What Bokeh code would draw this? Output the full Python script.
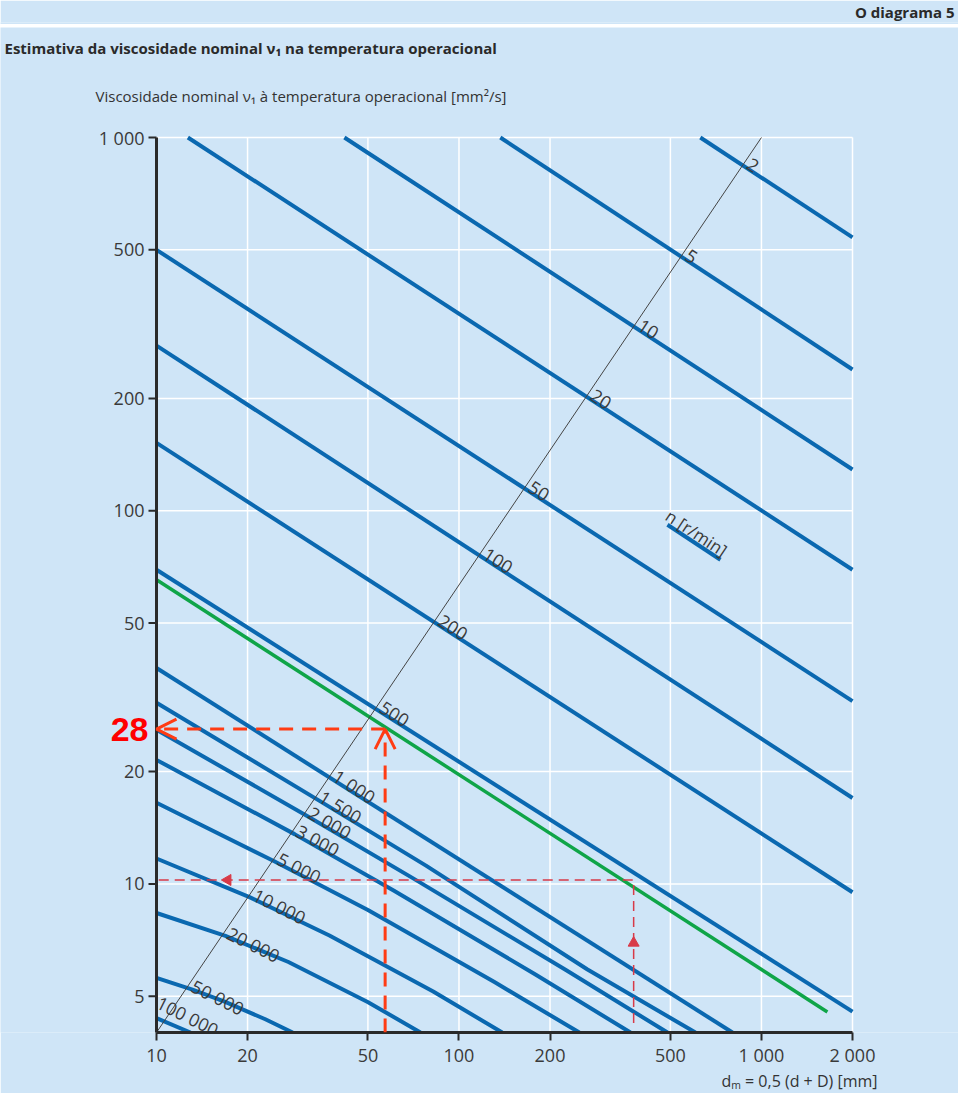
import numpy as np
from bokeh.plotting import figure
from bokeh.models import (FixedTicker, Arrow, OpenHead, ColumnDataSource, Range1d, Title)
from bokeh.layouts import column
from bokeh.embed import file_html
from bokeh.resources import INLINE
from bokeh.core.properties import value

# ---------------- data ----------------
x_ticks = [10, 20, 50, 100, 200, 500, 1000, 2000]
x_tick_labels = ["10", "20", "50", "100", "200", "500", "1 000", "2 000"]
y_ticks = [5, 10, 20, 50, 100, 200, 500, 1000]
y_tick_labels = ["5", "10", "20", "50", "100", "200", "500", "1 000"]

speed_labels = ["2", "5", "10", "20", "50", "100", "200", "500", "1 000", "1 500",
                "2 000", "3 000", "5 000", "10 000", "20 000", "50 000", "100 000"]

dm_n2 = [628, 2000];      nu_n2 = [1000, 540]
dm_n5 = [137, 2000];      nu_n5 = [1000, 239]
dm_n10 = [41.8, 2000];    nu_n10 = [1000, 129]
dm_n20 = [12.7, 2000];    nu_n20 = [1000, 69.5]
dm_n50 = [10, 2000];      nu_n50 = [500, 30.9]
dm_n100 = [10, 2000];     nu_n100 = [277, 17.0]
dm_n200 = [10, 2000];     nu_n200 = [152, 9.5]
dm_n500 = [10, 2000];     nu_n500 = [69.5, 4.55]
dm_n1000 = [10, 802];     nu_n1000 = [37.9, 4.0]
dm_n1500 = [10, 34.6, 77.8, 266, 605];   nu_n1500 = [30.6, 16.7, 11.2, 5.9, 4.0]
dm_n2000 = [10, 32.0, 69.9, 225, 489];   nu_n2000 = [25.9, 15.1, 10.4, 5.89, 4.0]
dm_n3000 = [10, 28.6, 60.8, 179, 369];   nu_n3000 = [21.5, 13.6, 9.61, 5.72, 4.0]
dm_n5000 = [10, 24.5, 50.0, 131, 250];   nu_n5000 = [16.5, 11.5, 8.52, 5.46, 4.0]
dm_n10000 = [10, 20.3, 37.3, 82.2, 139]; nu_n10000 = [11.7, 9.22, 7.28, 5.15, 4.0]
dm_n20000 = [10, 16.9, 27.3, 49.9, 74.6]; nu_n20000 = [8.36, 7.26, 6.18, 4.83, 4.0]
dm_n50000 = [10, 13.15, 16.8, 22.9, 28.2]; nu_n50000 = [5.6, 5.21, 4.84, 4.34, 4.0]
dm_n100000 = [10, 12.95];                nu_n100000 = [4.37, 4.0]

green_dm = [10, 1652]
green_nu = [65.3, 4.54]

diag_dm = [10, 1000]
diag_nu = [4, 1000]

example_dm = 57
example_nu = 26
example_label = "28"

guide_dm = [378, 378, 10]
guide_nu = [4.24, 10.25, 10.25]
guide_arrow_up = (378, 6.95)
guide_arrow_left = (17.2, 10.25)

key_dm = [489, 732]
key_nu = [91.7, 73.9]

curves_dm = [dm_n2, dm_n5, dm_n10, dm_n20, dm_n50, dm_n100, dm_n200, dm_n500, dm_n1000,
             dm_n1500, dm_n2000, dm_n3000, dm_n5000, dm_n10000, dm_n20000, dm_n50000, dm_n100000]
curves_nu = [nu_n2, nu_n5, nu_n10, nu_n20, nu_n50, nu_n100, nu_n200, nu_n500, nu_n1000,
             nu_n1500, nu_n2000, nu_n3000, nu_n5000, nu_n10000, nu_n20000, nu_n50000, nu_n100000]

# ---------------- style / layout ----------------
BG = "#cfe5f7"
BLUE = "#0a68b0"
GREEN = "#0fa548"
RED = "#ff3c14"
RED2 = "#d83a48"
INK = "#2a2a2a"
TICK_TXT = "#3a3a3a"
FONT = "Open Sans"

X0, X1 = 10, 2000          # chart extent in data
Y0, Y1 = 4, 1000
PX_X = 696 / np.log10(X1 / X0)   # pixels per decade
PX_Y = 895 / np.log10(Y1 / Y0)
RATIO = PX_Y / PX_X
CHART_LEFT, CHART_TOP = 164, 145   # page position of dm = 10 / nu = 1000


def dx(px):
    """data x at page pixel column px"""
    return X0 * 10 ** ((px - CHART_LEFT) / PX_X)


def dy(py):
    """data y at page pixel row py"""
    return Y1 * 10 ** ((CHART_TOP - py) / PX_Y)


# ---------------- top band ----------------
band = figure(width=958, height=24, x_range=Range1d(0, 1), y_range=Range1d(0, 1),
              output_backend="svg", toolbar_location=None, min_border=0,
              x_axis_location=None, y_axis_location=None,
              background_fill_color=BG, border_fill_color=BG, outline_line_color=None)
band.grid.visible = False
band.add_layout(Title(text="O diagrama 5", align="right", offset=4, vertical_align="middle",
                      standoff=0, text_font=FONT, text_font_style="bold",
                      text_font_size="15px", text_color=INK), "above")

# ---------------- main chart ----------------
p = figure(x_axis_type="log", y_axis_type="log",
           x_range=Range1d(dx(8), dx(966)), y_range=Range1d(Y0, dy(35)),
           frame_width=958, frame_height=1005,
           min_border_left=0, min_border_right=0, min_border_top=0, min_border_bottom=58,
           y_axis_location=None, output_backend="svg", toolbar_location=None,
           background_fill_color=BG, border_fill_color=BG, outline_line_color=None)
p.grid.visible = False

xa = p.xaxis
xa.ticker = FixedTicker(ticks=x_ticks)
xa.bounds = (X0, X1)
xa.major_label_overrides = {t: l for t, l in zip(x_ticks, x_tick_labels)}
xa.axis_line_color = INK
xa.axis_line_width = 3
xa.major_tick_line_color = INK
xa.major_tick_line_width = 2
xa.major_tick_out = 8
xa.major_tick_in = 0
xa.minor_tick_line_color = None
xa.major_label_text_font = FONT
xa.major_label_text_font_size = "18px"
xa.major_label_text_color = TICK_TXT
xa.major_label_standoff = 2

p.add_layout(Title(text="dₘ = 0,5 (d + D) [mm]", align="right", offset=81,
                   vertical_align="top", standoff=0, text_font=FONT,
                   text_font_style="normal", text_font_size="16px",
                   text_color="#333333"), "below")

# grid of the chart area
p.segment(x0=x_ticks, x1=x_ticks, y0=[Y0] * len(x_ticks), y1=[Y1] * len(x_ticks),
          line_color="white", line_width=1.5)
p.segment(x0=[X0] * len(y_ticks), x1=[X1] * len(y_ticks), y0=y_ticks, y1=y_ticks,
          line_color="white", line_width=1.5)

# header texts
p.text(x=[dx(12)], y=[dy(55)],
       text=["Estimativa da viscosidade nominal ν₁ na temperatura operacional"],
       text_font=value(FONT), text_font_style="bold", text_font_size="15px",
       text_color=INK, text_align="left", text_baseline="middle")
p.text(x=[dx(103)], y=[dy(103)],
       text=["Viscosidade nominal ν₁ à temperatura operacional [mm²/s]"],
       text_font=value(FONT), text_font_size="15px", text_color="#333333",
       text_align="left", text_baseline="middle")

# speed curves
for dm, nu in zip(curves_dm, curves_nu):
    p.line(dm, nu, line_color=BLUE, line_width=4, line_join="round")

p.line(green_dm, green_nu, line_color=GREEN, line_width=3.5)
p.line(diag_dm, diag_nu, line_color="#444444", line_width=1)

# labels where each speed curve meets the diagonal
lx0, ly0 = np.log10(diag_dm[0]), np.log10(diag_nu[0])
ds = (np.log10(diag_nu[1]) - ly0) / (np.log10(diag_dm[1]) - lx0)


def crossing(xs, ys):
    lx, ly = np.log10(xs), np.log10(ys)
    for i in range(len(lx) - 1):
        f0 = ly[i] - (ly0 + ds * (lx[i] - lx0))
        f1 = ly[i + 1] - (ly0 + ds * (lx[i + 1] - lx0))
        if f0 * f1 <= 0:
            t = f0 / (f0 - f1)
            cx = lx[i] + t * (lx[i + 1] - lx[i])
            cy = ly[i] + t * (ly[i + 1] - ly[i])
            sl = (ly[i + 1] - ly[i]) / (lx[i + 1] - lx[i])
            return 10 ** cx, 10 ** cy, sl
    return None


lab = dict(x=[], y=[], text=[], angle=[], xo=[], yo=[])
for dm, nu, txt in zip(curves_dm, curves_nu, speed_labels):
    c = crossing(dm, nu)
    if c is None:
        continue
    sp = min(max(c[2] * RATIO, -0.68), -0.5)
    lab["x"].append(c[0]); lab["y"].append(c[1]); lab["text"].append(txt)
    lab["angle"].append(float(np.arctan(sp)))
    if txt == "100 000":
        lab["xo"].append(-6.0); lab["yo"].append(-20.0)
    else:
        lab["xo"].append(6.0); lab["yo"].append(-3.0)
src = ColumnDataSource(lab)
p.text(x="x", y="y", text="text", angle="angle", x_offset="xo", y_offset="yo", source=src,
       text_font=value(FONT), text_font_size="18px", text_color=TICK_TXT,
       text_align="left", text_baseline="alphabetic")

# n [r/min] key: the label sits just above its short blue bar
p.line(key_dm, key_nu, line_color=BLUE, line_width=4)
ks = (np.log10(key_nu[1]) - np.log10(key_nu[0])) / (np.log10(key_dm[1]) - np.log10(key_dm[0])) * RATIO
p.text(x=[key_dm[0]], y=[key_nu[0]], text=["n [r/min]"], angle=[float(np.arctan(ks))],
       x_offset=[0], y_offset=[-11], text_font=value(FONT), text_font_size="17px",
       text_color=TICK_TXT, text_align="left", text_baseline="alphabetic")

# thin red guide
p.line(guide_dm, guide_nu, line_color=RED2, line_width=1.5, line_dash="10 6")
p.scatter([guide_arrow_up[0]], [guide_arrow_up[1]], marker="triangle", size=11,
          fill_color=RED2, line_color=RED2, angle=0)
p.scatter([guide_arrow_left[0]], [guide_arrow_left[1]], marker="triangle", size=11,
          fill_color=RED2, line_color=RED2, angle=np.pi / 2)

# worked example (28)
p.add_layout(Arrow(x_start=example_dm, y_start=Y0, x_end=example_dm, y_end=example_nu,
                   line_color=RED, line_width=3, line_dash="14 9",
                   end=OpenHead(size=20, line_color=RED, line_width=3)))
p.add_layout(Arrow(x_start=example_dm, y_start=example_nu, x_end=X0, y_end=example_nu,
                   line_color=RED, line_width=3, line_dash="14 9",
                   end=OpenHead(size=20, line_color=RED, line_width=3)))

# y scale at dm = 10: axis line, ticks and tick labels placed through the log scales
p.line([X0, X0], [dy(1041.5), Y1], line_color=INK, line_width=3)
p.segment(x0=[X0] * len(y_ticks), x1=[dx(CHART_LEFT - 8)] * len(y_ticks), y0=y_ticks, y1=y_ticks,
          line_color=INK, line_width=2)
p.text(x=[dx(CHART_LEFT - 12)] * len(y_ticks), y=y_ticks, text=y_tick_labels,
       text_font=value(FONT), text_font_size="18px", text_color=TICK_TXT,
       text_align="right", text_baseline="middle")
p.text(x=[dx(CHART_LEFT - 8)], y=[example_nu], text=[example_label],
       text_font=value("Liberation Sans"), text_font_style="bold", text_font_size="34px",
       text_color="#ff0000", text_align="right", text_baseline="middle")

layout = column(band, p, spacing=3)
open("out.html", "w").write(file_html(layout, INLINE))
